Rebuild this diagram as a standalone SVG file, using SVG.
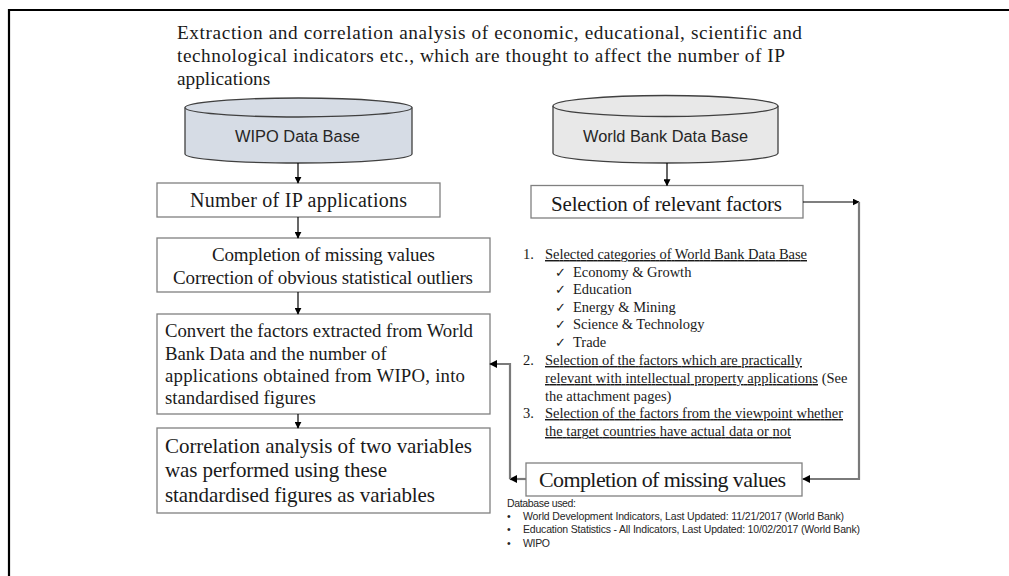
<svg xmlns="http://www.w3.org/2000/svg" width="1009" height="576" viewBox="0 0 1009 576">
<defs>
<marker id="ah" viewBox="0 0 10 10" refX="9" refY="5" markerWidth="7" markerHeight="7" markerUnits="userSpaceOnUse" orient="auto">
<path d="M0,0 L10,5 L0,10 z" fill="#000"/>
</marker>
<marker id="ahg" viewBox="0 0 10 10" refX="9" refY="5" markerWidth="8" markerHeight="8" markerUnits="userSpaceOnUse" orient="auto">
<path d="M0,0 L10,5 L0,10 z" fill="#000"/>
</marker>
</defs>
<style>
.box{fill:#fff;stroke:#808080;stroke-width:1.3}
.serif{font-family:"Liberation Serif","Times New Roman",serif;fill:#1a1a1a}
.sans{font-family:"Liberation Sans",Arial,sans-serif;fill:#262626}
.conn{fill:none;stroke:#000;stroke-width:1.2}
.connG{fill:none;stroke:#7a7a7a;stroke-width:2.2}
.ul{text-decoration:underline}
.chk{font-family:"DejaVu Sans",sans-serif;font-size:13px;fill:#1a1a1a}
</style>
<rect width="1009" height="576" fill="#fff"/>
<!-- frame -->
<line x1="8" y1="10" x2="1009" y2="10" stroke="#000" stroke-width="2.2"/>
<line x1="9" y1="9" x2="9" y2="576" stroke="#000" stroke-width="2.2"/>

<g id="title" class="serif" font-size="19.3">
<text x="177" y="39" textLength="625" lengthAdjust="spacing">Extraction and correlation analysis of economic, educational, scientific and</text>
<text x="177" y="62" textLength="608" lengthAdjust="spacing">technological indicators etc., which are thought to affect the number of IP</text>
<text x="177" y="85">applications</text>
</g>

<g id="wipo-db">
<path d="M185,107.5 L185,154 A113.5,9 0 0 0 412,154 L412,107.5" fill="#d6dce5" stroke="#404040" stroke-width="1.3"/>
<ellipse cx="298.5" cy="107.5" rx="113.5" ry="9.5" fill="#d6dce5" stroke="#404040" stroke-width="1.3"/>
<text x="297.5" y="142" text-anchor="middle" class="sans" font-size="16" textLength="125" lengthAdjust="spacingAndGlyphs">WIPO Data Base</text>
</g>

<g id="wb-db">
<path d="M553,106 L553,153 A112.5,10 0 0 0 778,153 L778,106" fill="#e8e8e8" stroke="#404040" stroke-width="1.3"/>
<ellipse cx="665.5" cy="106" rx="112.5" ry="10.5" fill="#e8e8e8" stroke="#404040" stroke-width="1.3"/>
<text x="665.5" y="142" text-anchor="middle" class="sans" font-size="16" textLength="165" lengthAdjust="spacingAndGlyphs">World Bank Data Base</text>
</g>

<g id="n-ip">
<rect class="box" x="157" y="183" width="283" height="34"/>
<text class="serif" x="298.5" y="207" text-anchor="middle" font-size="20" textLength="217" lengthAdjust="spacing">Number of IP applications</text>
</g>

<g id="n-sel">
<rect class="box" x="531" y="185.5" width="272" height="32.5"/>
<text class="serif" x="666.5" y="211" text-anchor="middle" font-size="21" textLength="231" lengthAdjust="spacing">Selection of relevant factors</text>
</g>

<g id="n-clean">
<rect class="box" x="157" y="238" width="333" height="54"/>
<text class="serif" x="323.5" y="261" text-anchor="middle" font-size="19" textLength="223" lengthAdjust="spacing">Completion of missing values</text>
<text class="serif" x="323" y="283.5" text-anchor="middle" font-size="19" textLength="300" lengthAdjust="spacing">Correction of obvious statistical outliers</text>
</g>

<g id="n-convert">
<rect class="box" x="157" y="314" width="333" height="100"/>
<text class="serif" x="165" y="337" font-size="18.8" textLength="308" lengthAdjust="spacing">Convert the factors extracted from World</text>
<text class="serif" x="165" y="360" font-size="18.8">Bank Data and the number of</text>
<text class="serif" x="165" y="382" font-size="18.8" textLength="300" lengthAdjust="spacing">applications obtained from WIPO, into</text>
<text class="serif" x="165" y="404" font-size="18.8">standardised figures</text>
</g>

<g id="n-corr">
<rect class="box" x="157" y="428" width="333" height="85"/>
<text class="serif" x="165" y="453" font-size="21" textLength="307" lengthAdjust="spacing">Correlation analysis of two variables</text>
<text class="serif" x="165" y="477" font-size="21" textLength="222" lengthAdjust="spacing">was performed using these</text>
<text class="serif" x="165" y="502" font-size="21" textLength="270" lengthAdjust="spacing">standardised figures as variables</text>
</g>

<g id="n-complete-r">
<rect class="box" x="526" y="463" width="276" height="33"/>
<text class="serif" x="662.5" y="487" text-anchor="middle" font-size="22" textLength="247" lengthAdjust="spacing">Completion of missing values</text>
</g>

<g id="list" class="serif" font-size="14.5">
<text x="523" y="259">1.</text>
<text x="545" y="259" class="ul" textLength="262" lengthAdjust="spacing">Selected categories of World Bank Data Base</text>
<text class="chk" x="555" y="277">✓</text><text x="573" y="277">Economy &amp; Growth</text>
<text class="chk" x="555" y="294">✓</text><text x="573" y="294">Education</text>
<text class="chk" x="555" y="312">✓</text><text x="573" y="312">Energy &amp; Mining</text>
<text class="chk" x="555" y="329">✓</text><text x="573" y="329">Science &amp; Technology</text>
<text class="chk" x="555" y="347">✓</text><text x="573" y="347">Trade</text>
<text x="523" y="365">2.</text>
<text x="545" y="365" class="ul" textLength="257" lengthAdjust="spacing">Selection of the factors which are practically</text>
<text x="545" y="383"><tspan class="ul" textLength="273" lengthAdjust="spacing">relevant with intellectual property applications</tspan><tspan> (See</tspan></text>
<text x="545" y="401">the attachment pages)</text>
<text x="523" y="418">3.</text>
<text x="545" y="418" class="ul" textLength="298" lengthAdjust="spacing">Selection of the factors from the viewpoint whether</text>
<text x="545" y="436" class="ul" textLength="246" lengthAdjust="spacing">the target countries have actual data or not</text>
</g>

<g id="notes" class="sans" font-size="10.5">
<text x="507" y="507" textLength="69" lengthAdjust="spacing">Database used:</text>
<text x="507" y="520">•</text>
<text x="523" y="520" textLength="321" lengthAdjust="spacing">World Development Indicators, Last Updated: 11/21/2017 (World Bank)</text>
<text x="507" y="533">•</text>
<text x="523" y="533" textLength="337" lengthAdjust="spacing">Education Statistics - All Indicators, Last Updated: 10/02/2017 (World Bank)</text>
<text x="507" y="547">•</text>
<text x="523" y="547" textLength="27" lengthAdjust="spacing">WIPO</text>
</g>

<g id="connectors">
<line class="conn" x1="298" y1="163" x2="298" y2="183" marker-end="url(#ah)"/>
<line class="conn" x1="667" y1="163" x2="667" y2="185.5" marker-end="url(#ah)"/>
<line class="conn" x1="298" y1="217" x2="298" y2="238" marker-end="url(#ah)"/>
<line class="conn" x1="298" y1="292" x2="298" y2="314" marker-end="url(#ah)"/>
<line class="conn" x1="298" y1="414" x2="298" y2="428" marker-end="url(#ah)"/>
<line class="conn" x1="803" y1="202" x2="859" y2="202" marker-end="url(#ah)"/>
<polyline class="connG" points="859,202 859,479 803,479" marker-end="url(#ahg)"/>
<line class="connG" x1="526" y1="479" x2="510" y2="479" marker-end="url(#ahg)"/>
<polyline class="connG" points="510,479 510,364 490,364" marker-end="url(#ahg)"/>
</g>
</svg>
